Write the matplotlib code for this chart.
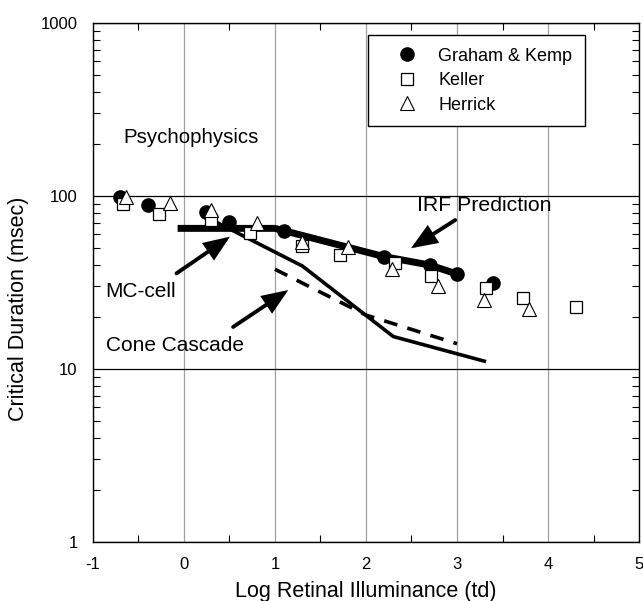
import matplotlib
matplotlib.use("Agg")
import matplotlib.pyplot as plt
from matplotlib.ticker import LogLocator, MultipleLocator, NullFormatter, FixedLocator

plt.rcParams['font.family'] = ['Liberation Sans', 'DejaVu Sans']
plt.rcParams['axes.unicode_minus'] = False

# Graham & Kemp (filled circles)
gk_x = [-0.7, -0.4, 0.24, 0.5, 1.1, 2.2, 2.7, 3.0, 3.4]
gk_y = [99, 89, 81, 71, 63, 44.6, 39.9, 35.4, 31.6]
# Keller (open squares)
keller_x = [-0.67, -0.28, 0.3, 0.72, 1.3, 1.71, 2.32, 2.71, 3.32, 3.72, 4.31]
keller_y = [90, 79, 73, 61, 51.5, 45.5, 41, 34.5, 29.5, 25.6, 22.8]
# Herrick (open triangles)
herrick_x = [-0.64, -0.15, 0.3, 0.8, 1.3, 1.8, 2.29, 2.79, 3.3, 3.79]
herrick_y = [99, 91, 83, 69.5, 54.5, 51, 37.7, 30, 25, 22.1]

# model curves
irf_x = [-0.07, 1.0, 2.2, 2.7, 3.0]
irf_y = [65, 65, 44.6, 39.9, 35.4]
mc_x = [0.3, 1.3, 2.3, 3.3]
mc_y = [73, 39.4, 15.4, 11.1]
cone_x = [1.0, 2.0, 3.0]
cone_y = [37.7, 20.5, 14.0]

fig = plt.figure(figsize=(6.43, 6.01), dpi=100)
ax = fig.add_axes([0.1446, 0.0982, 0.8492, 0.8635])

ax.plot(irf_x, irf_y, color='k', lw=5, solid_capstyle='butt', zorder=3)
ax.plot(mc_x, mc_y, color='k', lw=2.6, zorder=3)
ax.plot(cone_x, cone_y, color='k', lw=2.6, dashes=(3.8, 2.9), zorder=3)

ax.plot(gk_x, gk_y, 'o', ms=9.5, mfc='k', mec='k', ls='none', label='Graham & Kemp', zorder=4)
ax.plot(keller_x, keller_y, 's', ms=8.5, mfc='white', mec='k', mew=0.9, ls='none', label='Keller', zorder=5)
ax.plot(herrick_x, herrick_y, '^', ms=10, mfc='white', mec='k', mew=0.8, ls='none', label='Herrick', zorder=6)

ax.set_yscale('log')
ax.set_xlim(-1, 5)
ax.set_ylim(1, 1000)

ax.xaxis.set_major_locator(MultipleLocator(1))
ax.xaxis.set_minor_locator(MultipleLocator(0.5))
ax.yaxis.set_major_locator(FixedLocator([1, 10, 100, 1000]))
ax.yaxis.set_major_formatter(plt.FuncFormatter(lambda v, p: '%d' % v))
ax.yaxis.set_minor_locator(LogLocator(base=10, subs=range(2, 10)))
ax.yaxis.set_minor_formatter(NullFormatter())

ax.tick_params(which='both', direction='in', top=True, right=True, labelsize=12)
ax.tick_params(which='major', length=0, pad=11)
ax.tick_params(which='minor', length=5, width=0.8)

ax.xaxis.grid(True, which='major', color='#a0a0a0', lw=0.9)
ax.yaxis.grid(True, which='major', color='k', lw=0.9)
ax.set_axisbelow(True)
for s in ax.spines.values():
    s.set_linewidth(1.0)

ax.set_xlabel('Log Retinal Illuminance (td)', fontsize=15.5, labelpad=6)
ax.set_ylabel('Critical Duration (msec)', fontsize=15.5)
ax.yaxis.set_label_coords(-0.118, 0.45)

ax.text(-0.67, 219, 'Psychophysics', fontsize=14.7, va='center', ha='left')
ax.text(2.56, 88.7, 'IRF Prediction', fontsize=15.3, va='center', ha='left')
ax.text(-0.86, 28, 'MC-cell', fontsize=15, va='center', ha='left')
ax.text(-0.86, 13.6, 'Cone Cascade', fontsize=15, va='center', ha='left')

arrow = dict(arrowstyle='-|>,head_length=0.7,head_width=0.28', color='k', lw=2.8,
             mutation_scale=20, shrinkA=0, shrinkB=0, joinstyle='miter')
ax.annotate('', xy=(2.495, 49.9), xytext=(2.98, 72.6), arrowprops=arrow)
ax.annotate('', xy=(0.505, 58.2), xytext=(-0.082, 35.7), arrowprops=arrow)
ax.annotate('', xy=(1.146, 28.6), xytext=(0.54, 17.5), arrowprops=arrow)

leg = ax.legend(loc='upper left', bbox_to_anchor=(0.504, 0.977), fontsize=13,
                frameon=True, fancybox=False, edgecolor='k', framealpha=1,
                handletextpad=0.26, labelspacing=0.42, borderpad=0.7, handlelength=2.93,
                borderaxespad=0)
leg.get_frame().set_linewidth(1.0)

fig.savefig('out.png', dpi=100)
